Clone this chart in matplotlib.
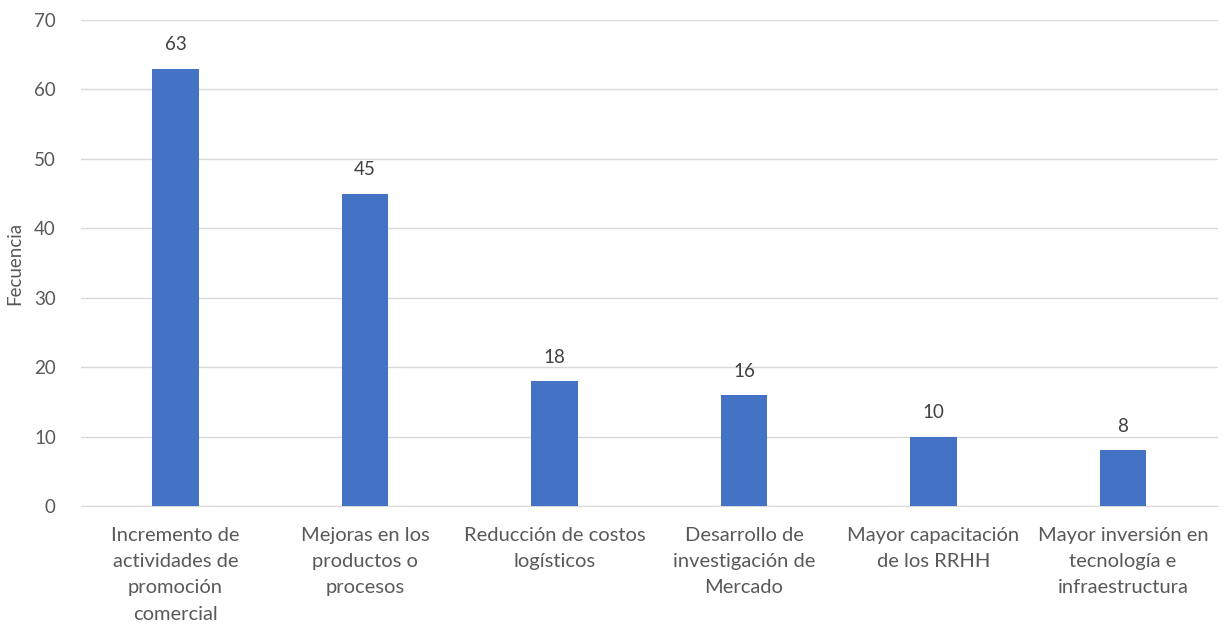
import matplotlib
matplotlib.use("Agg")
import matplotlib.pyplot as plt

categories = [
    "Incremento de\nactividades de\npromoción\ncomercial",
    "Mejoras en los\nproductos o\nprocesos",
    "Reducción de costos\nlogísticos",
    "Desarrollo de\ninvestigación de\nMercado",
    "Mayor capacitación\nde los RRHH",
    "Mayor inversión en\ntecnología e\ninfraestructura",
]
values = [63, 45, 18, 16, 10, 8]
y_ticks = [0, 10, 20, 30, 40, 50, 60, 70]
y_label = "Fecuencia"

plt.rcParams['font.family'] = ['Lato', 'DejaVu Sans']
text_color = "#595959"

fig = plt.figure(figsize=(12.25, 6.27), dpi=100)
ax = fig.add_axes([0.066, 0.193, 0.928, 0.775])

x = list(range(len(categories)))
bars = ax.bar(x, values, width=0.245, color="#4472C4", zorder=3)
for xi, v in zip(x, values):
    ax.text(xi, v + 2.2, str(v), ha="center", va="bottom", fontsize=13.5, color="#404040")

ax.set_xlim(-0.5, len(categories) - 0.5)
ax.set_ylim(0, 70)
ax.set_yticks(y_ticks)
ax.set_yticklabels([str(t) for t in y_ticks], fontsize=13.5, color=text_color)
ax.set_xticks(x)
ax.set_xticklabels(categories, fontsize=14.5, color=text_color, linespacing=1.66, va="top")
ax.tick_params(axis="both", length=0)
ax.tick_params(axis="x", pad=15)
ax.tick_params(axis="y", pad=18)
ax.grid(axis="y", color="#D9D9D9", linewidth=1, zorder=0)
for s in ["top", "right", "left"]:
    ax.spines[s].set_visible(False)
ax.spines["bottom"].set_color("#D9D9D9")
ax.set_ylabel(y_label, fontsize=13.5, color=text_color, labelpad=8)

fig.savefig("out.png", dpi=100)
